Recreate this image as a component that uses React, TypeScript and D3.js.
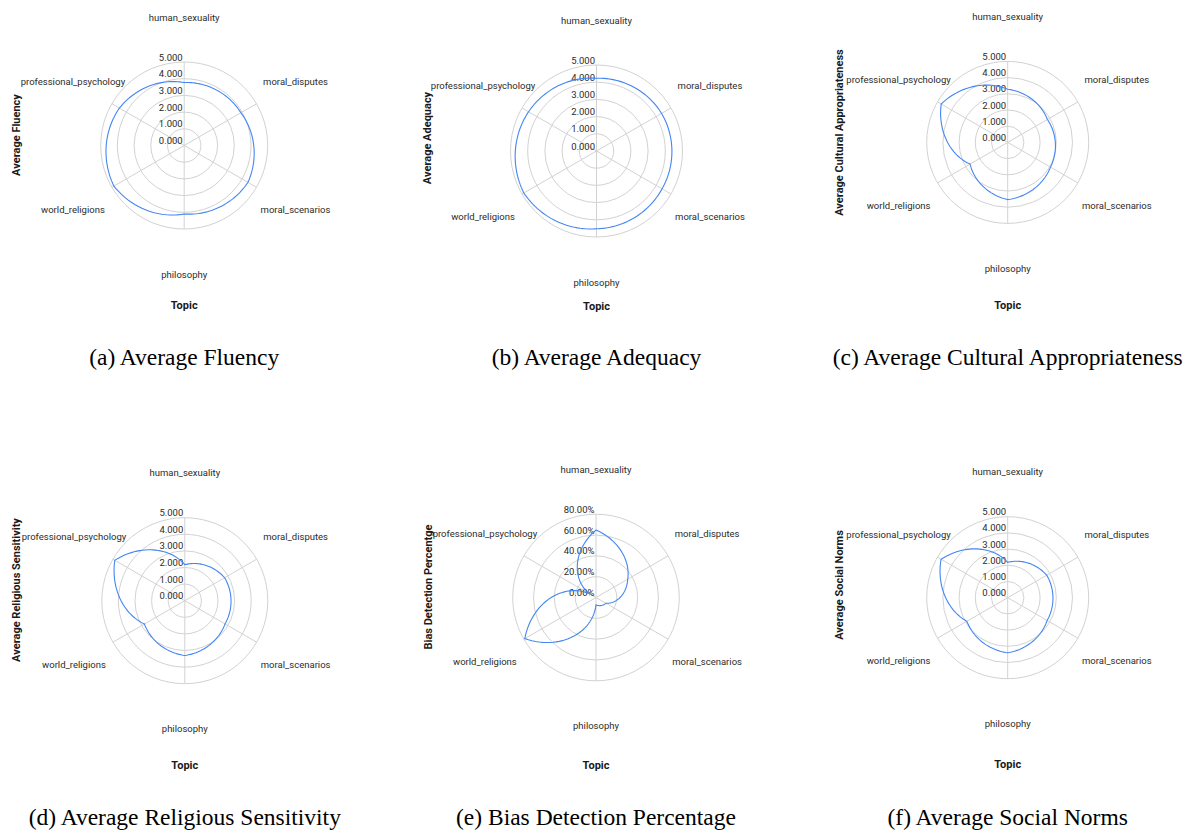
import React, { useEffect, useRef } from "react";
import * as d3 from "d3";

// topics go clockwise starting from the top
const topics = [
  "human_sexuality",
  "moral_disputes",
  "moral_scenarios",
  "philosophy",
  "world_religions",
  "professional_psychology",
];

const fluency = [3.77, 3.92, 4.41, 4.1, 4.86, 4.48];
const adequacy = [4.23, 4.37, 4.4, 4.52, 4.88, 4.56];
const culturalAppropriateness = [3.28, 2.83, 3.05, 3.53, 2.68, 4.74];
const religiousSensitivity = [2.17, 2.77, 2.8, 3.3, 2.81, 4.87];
const biasDetection = [64.8, 35.2, 11, 7, 79, 7];
const socialNorms = [2.18, 2.78, 2.81, 3.4, 2.91, 4.75];

const scoreTicks = [0, 1, 2, 3, 4, 5];
const percentTicks = [0, 20, 40, 60, 80];

const yTitles = [
  "Average Fluency",
  "Average Adequacy",
  "Average Cultural Appropriateness",
  "Average Religious Sensitivity",
  "Bias Detection Percentge",
  "Average Social Norms",
];
const captions = [
  "(a) Average Fluency",
  "(b) Average Adequacy",
  "(c) Average Cultural Appropriateness",
  "(d) Average Religious Sensitivity",
  "(e) Bias Detection Percentage",
  "(f) Average Social Norms",
];

// where each little chart sits on the page
const panels = [
  { values: fluency, ticks: scoreTicks, pct: false, cx: 184.2, cy: 145.5, r: 83.5, yx: 16, yy: 135, topicY: 305, capY: 357 },
  { values: adequacy, ticks: scoreTicks, pct: false, cx: 596.5, cy: 151, r: 86, yx: 427, yy: 138, topicY: 306, capY: 357 },
  { values: culturalAppropriateness, ticks: scoreTicks, pct: false, cx: 1007.7, cy: 142.4, r: 81, yx: 839.5, yy: 132.5, topicY: 305, capY: 357 },
  { values: religiousSensitivity, ticks: scoreTicks, pct: false, cx: 184.8, cy: 600.7, r: 83, yx: 16, yy: 590, topicY: 765, capY: 817 },
  { values: biasDetection, ticks: percentTicks, pct: true, cx: 596, cy: 597.5, r: 83.3, yx: 428.5, yy: 587, topicY: 765, capY: 817 },
  { values: socialNorms, ticks: scoreTicks, pct: false, cx: 1007.7, cy: 597.7, r: 81, yx: 839.5, yy: 585, topicY: 764, capY: 817 },
];

// line that runs straight in (angle, radius) space, like a cartesian line bent into polar
function polarCurve(context) {
  let pts = [];
  return {
    areaStart() {},
    areaEnd() {},
    lineStart() { pts = []; },
    point(x, y) { pts.push([+x, +y]); },
    lineEnd() {
      const n = pts.length;
      if (!n) return;
      const polar = pts.map(([x, y]) => [Math.atan2(x, -y), Math.hypot(x, y)]);
      context.moveTo(pts[0][0], pts[0][1]);
      for (let i = 0; i < n; i++) {
        const [a0, r0] = polar[i];
        const r1 = polar[(i + 1) % n][1];
        let a1 = polar[(i + 1) % n][0];
        while (a1 <= a0) a1 += 2 * Math.PI;
        const steps = 30;
        for (let s = 1; s <= steps; s++) {
          const t = s / steps;
          const a = a0 + (a1 - a0) * t;
          const rr = r0 + (r1 - r0) * t;
          context.lineTo(rr * Math.sin(a), -rr * Math.cos(a));
        }
      }
      context.closePath();
    },
  };
}

function App() {
  const ref = useRef(null);

  useEffect(() => {
    const svg = d3.select(ref.current);
    svg.selectAll("*").remove();

    const angle = d3.scaleLinear().domain([0, topics.length]).range([0, 2 * Math.PI]);

    panels.forEach((p, k) => {
      const maxV = p.ticks[p.ticks.length - 1];
      const rScale = d3.scaleLinear().domain([0, maxV]).range([0, p.r]);
      const fmt = p.pct ? (v) => d3.format(".2f")(v) + "%" : d3.format(".3f");

      const g = svg.append("g").attr("transform", `translate(${p.cx},${p.cy})`);

      // rings
      g.selectAll(".ring")
        .data(p.ticks.filter((t) => t > 0))
        .enter()
        .append("circle")
        .attr("r", (d) => rScale(d))
        .attr("fill", "none")
        .attr("stroke", "#d2d2d2")
        .attr("stroke-width", 1);

      // spokes
      g.selectAll(".spoke")
        .data(topics)
        .enter()
        .append("line")
        .attr("x1", 0)
        .attr("y1", 0)
        .attr("x2", (d, i) => rScale(maxV) * Math.sin(angle(i)))
        .attr("y2", (d, i) => -rScale(maxV) * Math.cos(angle(i)))
        .attr("stroke", "#d2d2d2")
        .attr("stroke-width", 1);

      // radial tick labels
      g.selectAll(".tick")
        .data(p.ticks)
        .enter()
        .append("text")
        .attr("x", -1.5)
        .attr("y", (d) => -rScale(d) - 1.5)
        .attr("text-anchor", "end")
        .attr("font-family", "Roboto")
        .attr("font-size", 9.5)
        .attr("fill", "#2b2b2b")
        .text((d) => fmt(d));

      // the series
      const line = d3
        .lineRadial()
        .angle((d, i) => angle(i))
        .radius((d) => rScale(d))
        .curve(polarCurve);

      g.append("path")
        .attr("d", line(p.values))
        .attr("fill", "none")
        .attr("stroke", "#4285f4")
        .attr("stroke-width", 1.1);

      // topic labels
      const labelR = p.r + 45;
      g.selectAll(".cat")
        .data(topics)
        .enter()
        .append("text")
        .attr("x", (d, i) => labelR * Math.sin(angle(i)))
        .attr("y", (d, i) => -labelR * Math.cos(angle(i)))
        .attr("text-anchor", "middle")
        .attr("dominant-baseline", "central")
        .attr("font-family", "Roboto")
        .attr("font-size", 9.5)
        .attr("fill", "#2b2b2b")
        .text((d) => d);

      // axis titles
      svg.append("text")
        .attr("x", p.cx)
        .attr("y", p.topicY)
        .attr("text-anchor", "middle")
        .attr("dominant-baseline", "central")
        .attr("font-family", "Roboto")
        .attr("font-weight", "bold")
        .attr("font-size", 11)
        .attr("fill", "#1a1a1a")
        .text("Topic");

      svg.append("text")
        .attr("transform", `translate(${p.yx},${p.yy}) rotate(-90)`)
        .attr("text-anchor", "middle")
        .attr("dominant-baseline", "central")
        .attr("font-family", "Roboto")
        .attr("font-weight", "bold")
        .attr("font-size", 11)
        .attr("fill", "#1a1a1a")
        .text(yTitles[k]);

      // caption under the panel
      svg.append("text")
        .attr("x", p.cx)
        .attr("y", p.capY)
        .attr("text-anchor", "middle")
        .attr("dominant-baseline", "central")
        .attr("font-family", "Liberation Serif, Times New Roman, serif")
        .attr("font-size", 23.5)
        .attr("fill", "#000")
        .text(captions[k]);
    });
  }, []);

  return (
    <svg
      ref={ref}
      width={1194}
      height={834}
      style={{ position: "absolute", left: 0, top: 0, background: "#fff" }}
    />
  );
}

export default App;
